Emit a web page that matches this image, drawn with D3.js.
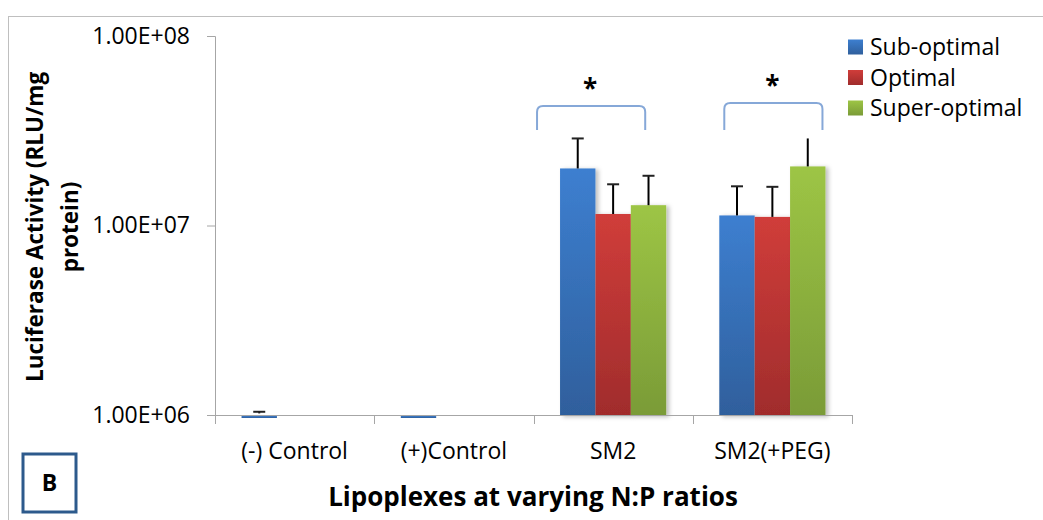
<!DOCTYPE html>
<html>
<head>
<meta charset="utf-8">
<script src="https://cdn.jsdelivr.net/npm/d3@7/dist/d3.min.js"></script>
<style>
  body { margin: 0; background: #fff; }
  text { font-family: "Open Sans", Lato, sans-serif; fill: #000; }
</style>
</head>
<body>
<svg id="chart"></svg>
<script>
// data
const categories = ["(-) Control", "(+)Control", "SM2", "SM2(+PEG)"];
const series = ["Sub-optimal", "Optimal", "Super-optimal"];
const subOptimal = [1.02e6, 1.02e6, 2.0e7, 1.13e7];
const optimal = [null, null, 1.15e7, 1.11e7];
const superOptimal = [null, null, 1.28e7, 2.05e7];
const errSub = [0.02e6, 0, 0.88e7, 0.48e7];
const errOpt = [0, 0, 0.50e7, 0.49e7];
const errSuper = [0, 0, 0.55e7, 0.83e7];
const yTicks = [1e6, 1e7, 1e8];
const starGroups = ["SM2", "SM2(+PEG)"];

const width = 1043, height = 520;
let margin = ({top: 36, right: 191, bottom: 103, left: 215});

const svg = d3.select('#chart').attr('width', width).attr('height', height);

// outer chart border
svg.append('rect')
  .attr('x', 8.5).attr('y', 16.5)
  .attr('width', width + 20).attr('height', height + 20)
  .attr('fill', 'none').attr('stroke', '#bfbfbf').attr('stroke-width', 1);

let y = d3.scaleLog()
  .domain([1e6, 1e8])
  .range([height - margin.bottom - 0.5 - 1.5, margin.top]);

let x = d3.scaleBand()
  .domain(categories)
  .range([margin.left, width - margin.right])
  .padding(0);

const bw = x.bandwidth() / 4.5;
let xs = d3.scaleBand()
  .domain(series)
  .range([(x.bandwidth() - 3 * bw) / 2, (x.bandwidth() + 3 * bw) / 2]);

const colors = {
  "Sub-optimal": ["#3d7fd0", "#2f5f9c"],
  "Optimal": ["#d03d3a", "#a02c2c"],
  "Super-optimal": ["#9dc545", "#7a9b37"]
};

const defs = svg.append('defs');
series.forEach((s, i) => {
  const g = defs.append('linearGradient').attr('id', 'grad' + i)
    .attr('x1', 0).attr('y1', 0).attr('x2', 0).attr('y2', 1);
  g.append('stop').attr('offset', '0%').attr('stop-color', colors[s][0]);
  g.append('stop').attr('offset', '100%').attr('stop-color', colors[s][1]);
});
const f = defs.append('filter').attr('id', 'shadow')
  .attr('x', '-20%').attr('y', '-10%').attr('width', '150%').attr('height', '130%');
f.append('feDropShadow').attr('dx', 3).attr('dy', 1).attr('stdDeviation', 2)
  .attr('flood-color', '#000').attr('flood-opacity', 0.25);

// axes
const y0 = y(1e6);
let yAxis = g => g
  .attr("transform", `translate(${margin.left},0)`)
  .call(d3.axisLeft(y).tickValues(yTicks).tickSize(8).tickPadding(17)
    .tickFormat(d => d.toExponential(2).toUpperCase().replace("E+", "E+0")))
  .call(g => g.select(".domain").attr('stroke', '#a6a6a6'))
  .call(g => g.selectAll(".tick line").attr('stroke', '#a6a6a6'))
  .call(g => g.selectAll("text").attr('font-size', 23).attr('fill', '#000'));

let xAxis = g => g
  .attr("transform", `translate(0,${y0})`)
  .call(d3.axisBottom(x).tickSize(0).tickPadding(28))
  .call(g => g.select(".domain").attr('stroke', '#a6a6a6').attr('d', `M${margin.left - 8},0.5H${width - margin.right}`))
  .call(g => g.selectAll("text").attr('font-size', 23).attr('fill', '#000'));

const data = categories.map((c, i) => ({
  cat: c,
  vals: [
    {s: series[0], v: subOptimal[i], e: errSub[i]},
    {s: series[1], v: optimal[i], e: errOpt[i]},
    {s: series[2], v: superOptimal[i], e: errSuper[i]}
  ]
}));

const groups = svg.selectAll('.node')
  .data(data)
  .enter().append('g').attr('class', 'node')
  .attr('transform', d => `translate(${x(d.cat)},0)`);

groups.selectAll('rect')
  .data(d => d.vals.filter(v => v.v != null))
  .enter().append('rect')
  .attr('x', d => xs(d.s))
  .attr('y', d => d.v > 2e6 ? y(d.v) : y0 + 0.5)
  .attr('width', xs.bandwidth())
  .attr('height', d => d.v > 2e6 ? y0 - y(d.v) + 1 : 2.5)
  .attr('fill', d => 'url(#grad' + series.indexOf(d.s) + ')')
  .attr('filter', d => d.v > 2e6 ? 'url(#shadow)' : null);

// error bars
const eb = groups.selectAll('.err')
  .data(d => d.vals.filter(v => v.v != null && v.e > 0))
  .enter().append('g').attr('class', 'err');
eb.append('line')
  .attr('x1', d => xs(d.s) + xs.bandwidth() / 2)
  .attr('x2', d => xs(d.s) + xs.bandwidth() / 2)
  .attr('y1', d => y(d.v))
  .attr('y2', d => y(d.v + d.e))
  .attr('stroke', '#000').attr('stroke-width', 2);
eb.filter(d => !(d.s === "Super-optimal" && d.v > 2e7)).append('line')
  .attr('x1', d => xs(d.s) + xs.bandwidth() / 2 - 6)
  .attr('x2', d => xs(d.s) + xs.bandwidth() / 2 + 6)
  .attr('y1', d => y(d.v + d.e))
  .attr('y2', d => y(d.v + d.e))
  .attr('stroke', '#222').attr('stroke-width', 2);

svg.append('g').call(yAxis);
svg.append('g').call(xAxis);
// x category ticks
svg.append('g').selectAll('line')
  .data(categories.map(c => x(c)).concat([x.range()[1]]))
  .enter().append('line')
  .attr('x1', d => Math.round(d) + 0.5).attr('x2', d => Math.round(d) + 0.5)
  .attr('y1', y0).attr('y2', y0 + 9)
  .attr('stroke', '#a6a6a6');

// significance brackets (hand-placed in the original, offsets from the bar group edges)
const brTop = [106, 103];
const brLeft = [-23, 5];
const brRight = [-21, -3];
starGroups.forEach((c, i) => {
  const x1 = x(c) + xs(series[0]) + brLeft[i];
  const x2 = x(c) + xs(series[2]) + xs.bandwidth() + brRight[i];
  const yt = brTop[i], yb = 130, r = 6;
  svg.append('path')
    .attr('d', `M${x1},${yb}V${yt + r}Q${x1},${yt} ${x1 + r},${yt}H${x2 - r}Q${x2},${yt} ${x2},${yt + r}V${yb}`)
    .attr('fill', 'none').attr('stroke', '#86a8d8').attr('stroke-width', 2);
  svg.append('text')
    .attr('x', (x1 + x2) / 2 - 1).attr('y', yt - 8)
    .attr('text-anchor', 'middle').attr('font-size', 26).attr('font-weight', 'bold')
    .text('*');
});

// legend
const legend = svg.append('g').attr('transform', 'translate(848,0)');
series.forEach((s, i) => {
  const ly = 47 + i * 30.5;
  legend.append('rect').attr('x', 0).attr('y', ly - 7.5).attr('width', 15).attr('height', 15)
    .attr('fill', 'url(#grad' + i + ')');
  legend.append('text').attr('x', 22).attr('y', ly).attr('dy', '0.35em')
    .attr('font-size', 23).text(s);
});

// axis titles
svg.append('text')
  .attr('transform', 'translate(43,227) rotate(-90)')
  .attr('text-anchor', 'middle').attr('font-size', 22.5).attr('font-weight', 'bold')
  .text('Luciferase Activity (RLU/mg');
svg.append('text')
  .attr('transform', 'translate(78,227) rotate(-90)')
  .attr('text-anchor', 'middle').attr('font-size', 22.5).attr('font-weight', 'bold')
  .text('protein)');
svg.append('text')
  .attr('x', 533).attr('y', 506)
  .attr('text-anchor', 'middle').attr('font-size', 26).attr('font-weight', 'bold')
  .text('Lipoplexes at varying N:P ratios');

// panel label
svg.append('rect').attr('x', 23).attr('y', 454).attr('width', 53).attr('height', 58)
  .attr('fill', '#fff').attr('stroke', '#2d5a8c').attr('stroke-width', 3);
svg.append('text').attr('x', 49.5).attr('y', 483).attr('dy', '0.35em')
  .attr('text-anchor', 'middle').attr('font-size', 23).attr('font-weight', 'bold')
  .text('B');
</script>
</body>
</html>
